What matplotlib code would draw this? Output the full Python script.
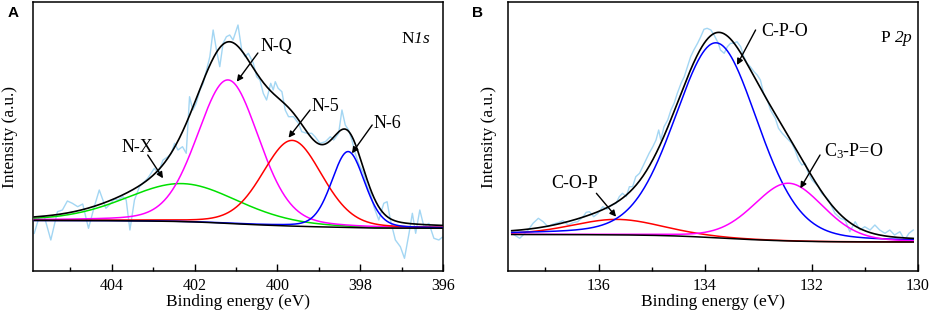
import numpy as np
import matplotlib
matplotlib.use('Agg')
import matplotlib.pyplot as plt
from matplotlib.ticker import MultipleLocator

plt.rcParams['font.family'] = 'Liberation Serif'
plt.rcParams['mathtext.fontset'] = 'custom'
plt.rcParams['mathtext.rm'] = 'Liberation Serif'
plt.rcParams['mathtext.it'] = 'Liberation Serif:italic'
# italic digits too (mathit keeps digits upright)
plt.rcParams['mathtext.sf'] = 'Liberation Serif:italic'

# ---- N 1s raw spectrum (binding energy in eV, intensity in a.u.)
n1s_energy = [405.87, 405.75, 405.63, 405.47, 405.31, 405.19, 405.07, 404.95, 404.82, 404.70,
              404.56, 404.42, 404.30, 404.14, 404.02, 403.94, 403.85, 403.73, 403.65, 403.56,
              403.45, 403.33, 403.21, 403.13, 403.05, 402.97, 402.88, 402.76, 402.64, 402.56,
              402.48, 402.40, 402.29, 402.20, 402.12, 402.04, 401.96, 401.87, 401.79, 401.71,
              401.63, 401.55, 401.47, 401.39, 401.31, 401.23, 401.15, 401.07, 400.95, 400.86,
              400.78, 400.70, 400.58, 400.50, 400.42, 400.34, 400.26, 400.16, 400.10, 400.05,
              399.98, 399.89, 399.81, 399.73, 399.61, 399.49, 399.41, 399.29, 399.17, 399.09,
              398.97, 398.84, 398.72, 398.64, 398.52, 398.44, 398.36, 398.28, 398.20, 398.12,
              398.04, 397.92, 397.83, 397.75, 397.67, 397.55, 397.43, 397.35, 397.27, 397.15,
              397.03, 396.93, 396.82, 396.74, 396.66, 396.56, 396.46, 396.34, 396.22, 396.10,
              396.02]
n1s_counts = [37.7, 54.3, 55.0, 31.0, 59.3, 61.0, 70.0, 67.7, 64.3, 67.0,
              42.7, 64.3, 81.0, 62.7, 67.7, 71.7, 71.0, 74.3, 71.0, 41.0,
              71.0, 84.3, 89.3, 92.7, 97.7, 102.7, 97.7, 111.0, 114.3, 117.7,
              127.7, 121.0, 124.3, 117.7, 174.3, 161.0, 167.7, 181.0, 187.7, 201.0,
              214.3, 241.0, 221.0, 204.3, 227.7, 234.3, 236.0, 231.0, 246.0, 221.0,
              214.3, 217.7, 207.7, 194.3, 191.0, 177.7, 171.0, 187.7, 181.0, 189.3,
              182.7, 179.3, 161.0, 154.3, 154.3, 147.7, 139.3, 137.7, 137.7, 134.3,
              127.7, 129.3, 134.3, 131.0, 137.7, 161.0, 146.0, 141.0, 131.0, 117.7,
              107.7, 97.7, 84.3, 77.7, 64.3, 51.0, 67.7, 69.3, 51.0, 31.0,
              24.3, 12.7, 37.7, 57.7, 37.7, 61.0, 44.3, 47.7, 32.7, 31.0,
              33.7]

# N 1s fit: background ends (high BE, low BE) and peak parameters
n1s_bg = [50.5, 42.8]
n1s_names = ['N-X', 'N-Q', 'N-5', 'N-6']
n1s_center = [402.30, 401.19, 399.64, 398.29]
n1s_height = [38.0, 143.5, 85.7, 76.0]
n1s_fwhm = [3.2, 1.76, 1.70, 0.94]

# ---- P 2p raw spectrum
p2p_energy = [137.63, 137.48, 137.32, 137.23, 137.13, 137.04, 136.95, 136.85, 136.76, 136.67,
              136.57, 136.48, 136.39, 136.29, 136.23, 136.17, 136.09, 136.01, 135.92, 135.84,
              135.76, 135.67, 135.61, 135.55, 135.48, 135.42, 135.36, 135.30, 135.23, 135.17,
              135.11, 135.05, 134.98, 134.92, 134.87, 134.83, 134.77, 134.70, 134.64, 134.58,
              134.52, 134.45, 134.39, 134.33, 134.27, 134.21, 134.14, 134.08, 134.02, 133.96,
              133.89, 133.83, 133.75, 133.71, 133.64, 133.58, 133.52, 133.46, 133.40, 133.33,
              133.27, 133.21, 133.15, 133.08, 133.02, 132.96, 132.90, 132.83, 132.77, 132.68,
              132.62, 132.55, 132.49, 132.43, 132.37, 132.31, 132.24, 132.18, 132.12, 132.06,
              131.99, 131.93, 131.87, 131.81, 131.74, 131.68, 131.62, 131.56, 131.46, 131.37,
              131.28, 131.18, 131.09, 131.00, 130.90, 130.81, 130.72, 130.62, 130.53, 130.44,
              130.34, 130.25, 130.17, 130.09]
p2p_counts = [37.7, 32.7, 41.0, 47.7, 52.7, 49.3, 44.3, 47.0, 48.3, 50.3,
              46.0, 48.3, 49.3, 54.3, 58.7, 59.3, 54.3, 57.7, 64.3, 61.7,
              66.0, 67.7, 74.3, 77.7, 74.3, 84.3, 84.3, 94.3, 97.7, 104.3,
              111.0, 117.7, 124.3, 131.0, 141.0, 131.0, 144.3, 151.0, 161.0, 167.7,
              177.7, 187.7, 194.3, 204.3, 214.3, 221.0, 227.7, 234.3, 241.7, 242.7,
              241.0, 236.0, 227.7, 221.0, 217.7, 224.3, 227.7, 227.7, 229.3, 224.3,
              214.3, 207.7, 204.3, 199.3, 196.0, 191.0, 177.7, 171.0, 161.0, 152.7,
              142.7, 137.7, 134.3, 131.0, 127.7, 121.0, 111.0, 106.0, 107.7, 97.7,
              91.0, 87.7, 84.3, 77.7, 74.3, 71.0, 64.3, 57.7, 52.7, 51.0,
              39.3, 49.3, 41.0, 44.3, 41.0, 46.0, 41.0, 37.7, 41.0, 36.0,
              39.3, 31.0, 37.7, 41.0]

p2p_bg = [36.5, 29.0]
p2p_names = ['C-O-P', 'C-P-O', 'C$_3$-P=O']
p2p_center = [135.65, 133.79, 132.43]
p2p_height = [15.5, 195.0, 57.7]
p2p_fwhm = [2.0, 1.84, 1.55]


def pseudo_voigt(x, c, h, w, eta=0.2):
    t = 4 * (x - c) ** 2 / w ** 2
    return h * (eta / (1 + t) + (1 - eta) * np.exp(-np.log(2) * t))


def shirley(x, peaks, hi, lo):
    # background rises towards high binding energy with the integrated peak area
    order = np.argsort(x)
    frac = np.cumsum(peaks[order])
    frac = frac / frac[-1]
    bg = np.empty_like(x)
    bg[order] = lo + (hi - lo) * frac
    return bg


def draw_panel(ax, energy, counts, bg_ends, centers, heights, fwhms, colors, xlim):
    x = np.linspace(max(energy), min(energy), 600)
    comps = [pseudo_voigt(x, c, h, w) for c, h, w in zip(centers, heights, fwhms)]
    total = np.sum(comps, axis=0)
    bg = shirley(x, total, bg_ends[0], bg_ends[1])
    ax.plot(energy, counts, color='#a3d6f3', lw=1.0, zorder=1)
    for comp, col in zip(comps, colors):
        ax.plot(x, comp + bg, color=col, lw=1.1, zorder=3)
    ax.plot(x, bg, color='k', lw=1.1, zorder=3.5)
    ax.plot(x, total + bg, color='k', lw=1.2, zorder=4)

    ax.set_xlim(*xlim)
    ax.set_ylim(0, 269)
    ax.set_yticks([])
    ax.xaxis.set_major_locator(MultipleLocator(2))
    ax.xaxis.set_minor_locator(MultipleLocator(1))
    ax.tick_params(axis='x', which='both', direction='in', top=False, labelsize=11.5, pad=5)
    ax.tick_params(axis='x', which='major', length=5, width=1)
    ax.tick_params(axis='x', which='minor', length=3, width=1)
    for sp in ax.spines.values():
        sp.set_linewidth(1.1)
    ax.set_xlabel('Binding energy (eV)', fontsize=12.5, labelpad=0)


def label(ax, text, text_xy, start, tip):
    ax.text(text_xy[0], text_xy[1], text, fontsize=13, ha='center', va='center')
    ax.annotate('', xy=tip, xytext=start,
                arrowprops=dict(arrowstyle='-|>', color='k', lw=1.0,
                                mutation_scale=9, shrinkA=0, shrinkB=0))


fig = plt.figure(figsize=(9.31, 3.13), dpi=100)
axA = fig.add_axes([33 / 931, 42 / 313, 410 / 931, 269 / 313])
axB = fig.add_axes([508 / 931, 42 / 313, 410 / 931, 269 / 313])

draw_panel(axA, n1s_energy, n1s_counts, n1s_bg, n1s_center, n1s_height, n1s_fwhm,
           ['#00e000', '#ff00ff', '#ff0000', '#0000ff'], (405.9, 396.0))
draw_panel(axB, p2p_energy, p2p_counts, p2p_bg, p2p_center, p2p_height, p2p_fwhm,
           ['#ff0000', '#0000ff', '#ff00ff'], (137.7, 130.0))

axA.set_ylabel('Intensity (a.u.)', fontsize=12.5, labelpad=10.5)
axB.set_ylabel('Intensity (a.u.)', fontsize=12.5, labelpad=8)

label(axA, n1s_names[0], (403.39, 123), (403.13, 116), (402.76, 92.7))
label(axA, n1s_names[1], (400.03, 225), (400.47, 218), (400.98, 189.3))
label(axA, n1s_names[2], (398.84, 164.3), (399.21, 161), (399.73, 133.3))
label(axA, n1s_names[3], (397.34, 148), (397.71, 146), (398.20, 117.7))
axA.text(396.3, 232, 'N$\\mathsf{1s}$', fontsize=12.5, ha='right', va='center')

label(axB, p2p_names[0], (136.45, 87), (136.04, 77.7), (135.67, 54.3))
label(axB, p2p_names[1], (132.50, 239.3), (133.05, 241), (133.40, 206))
label(axB, p2p_names[2], (131.21, 120), (131.84, 116), (132.21, 82.7))
axB.text(130.1, 232, 'P $\\mathsf{2p}$', fontsize=12.5, ha='right', va='center')

fig.text(8 / 931, 1 - 17 / 313, 'A', fontsize=11, weight='bold', family='Liberation Sans')
fig.text(472 / 931, 1 - 17 / 313, 'B', fontsize=11, weight='bold', family='Liberation Sans')

fig.savefig('out.png', dpi=100)
